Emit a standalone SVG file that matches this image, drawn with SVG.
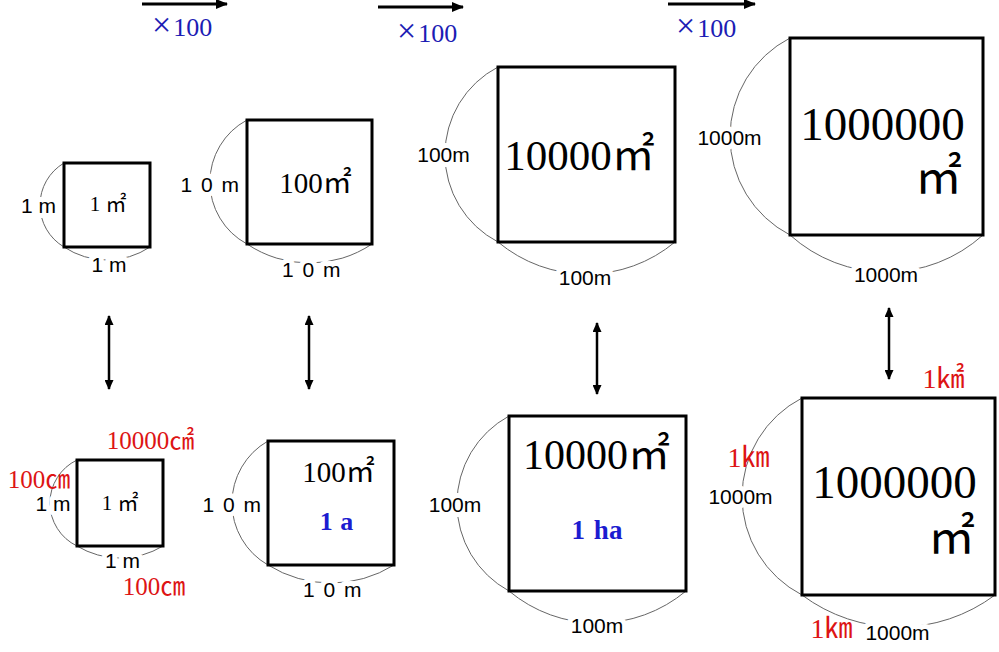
<svg xmlns="http://www.w3.org/2000/svg" width="999" height="652" viewBox="0 0 999 652">
<style>
.sq{fill:none;stroke:#000;stroke-width:3}
.arc{fill:none;stroke:#666;stroke-width:1}
.lbl{font-family:"Liberation Sans","Noto Sans CJK JP",sans-serif;font-size:21px;fill:#000;text-anchor:middle;paint-order:stroke;stroke:#fff;stroke-width:10;stroke-linejoin:round}
.big{font-family:"Liberation Serif","Noto Sans CJK JP",serif;fill:#000;text-anchor:middle}
.red{font-family:"Liberation Serif","Noto Sans CJK JP",serif;fill:#dd1414;text-anchor:middle}
.blue{font-family:"Liberation Serif","Noto Sans CJK JP",serif;fill:#1c1cb4;font-size:26px}
.unit{font-family:"Liberation Serif","Noto Sans CJK JP",serif;fill:#1c1cd0;font-weight:bold;text-anchor:middle}
.ar{stroke:#000;stroke-width:3;fill:none}
.va{stroke:#000;stroke-width:2.5;fill:none}
</style>
<defs>
<marker id="ah" markerUnits="userSpaceOnUse" markerWidth="12" markerHeight="10" refX="11" refY="5" orient="auto-start-reverse"><path d="M0,0 L12,5 L0,10 z" fill="#000"/></marker>
<marker id="vh" markerUnits="userSpaceOnUse" markerWidth="10" markerHeight="9" refX="9" refY="4.5" orient="auto-start-reverse"><path d="M0,0 L10,4.5 L0,9 z" fill="#000"/></marker>
</defs>

<g id="connectors">
<line class="ar" x1="142" y1="4" x2="227" y2="4" marker-end="url(#ah)"/>
<line class="ar" x1="378" y1="7" x2="463" y2="7" marker-end="url(#ah)"/>
<line class="ar" x1="668" y1="4" x2="755" y2="4" marker-end="url(#ah)"/>
<text class="blue" x="152" y="36"><tspan font-size="34">×</tspan><tspan dx="2">100</tspan></text>
<text class="blue" x="397" y="42"><tspan font-size="34">×</tspan><tspan dx="2">100</tspan></text>
<text class="blue" x="676" y="37"><tspan font-size="34">×</tspan><tspan dx="2">100</tspan></text>
<line class="va" x1="109" y1="316" x2="109" y2="389" marker-start="url(#vh)" marker-end="url(#vh)"/>
<line class="va" x1="309" y1="316" x2="309" y2="389" marker-start="url(#vh)" marker-end="url(#vh)"/>
<line class="va" x1="597" y1="323" x2="597" y2="394" marker-start="url(#vh)" marker-end="url(#vh)"/>
<line class="va" x1="889" y1="308" x2="889" y2="379" marker-start="url(#vh)" marker-end="url(#vh)"/>
</g>

<g id="sq1">
<path class="arc" d="M64 163 A48.75 48.75 0 0 0 64 247"/>
<path class="arc" d="M64 247 A77.6 77.6 0 0 0 150 247"/>
<rect class="sq" x="64" y="163" width="86" height="84"/>
<text class="lbl" x="38.5" y="213">1 m</text>
<text class="lbl" x="109" y="272">1 m</text>
<text class="big" x="108" y="211" font-size="21">1 ㎡</text>
</g>

<g id="sq2">
<path class="arc" d="M247 120 A70.4 70.4 0 0 0 247 244"/>
<path class="arc" d="M247 244 A112 112 0 0 0 372 244"/>
<rect class="sq" x="247" y="120" width="125" height="124"/>
<text class="lbl" x="210.5" y="192" letter-spacing="1.5">1 0 m</text>
<text class="lbl" x="312" y="277" letter-spacing="1.5">1 0 m</text>
<text class="big" x="315.5" y="193" font-size="29">100㎡</text>
</g>

<g id="sq3">
<path class="arc" d="M498 67 A98.7 98.7 0 0 0 498 242"/>
<path class="arc" d="M498 242 A138 138 0 0 0 675 242"/>
<rect class="sq" x="498" y="67" width="177" height="175"/>
<text class="lbl" x="443.5" y="162">100m</text>
<text class="lbl" x="585" y="285">100m</text>
<text class="big" x="579.5" y="170" font-size="43">10000㎡</text>
</g>

<g id="sq4">
<path class="arc" d="M790 38 A110.9 110.9 0 0 0 790 235"/>
<path class="arc" d="M790 235 A144 144 0 0 0 983 235"/>
<rect class="sq" x="790" y="38" width="193" height="197"/>
<text class="lbl" x="729.5" y="145">1000m</text>
<text class="lbl" x="886" y="282">1000m</text>
<text class="big" x="882.5" y="140" font-size="47">1000000</text>
<text class="big" x="962" y="193" font-size="47" style="text-anchor:end">㎡</text>
</g>

<g id="sq5">
<path class="arc" d="M77 460 A47.7 47.7 0 0 0 77 546"/>
<path class="arc" d="M77 546 A83 83 0 0 0 163 546"/>
<rect class="sq" x="77" y="460" width="86" height="86"/>
<text class="lbl" x="53" y="511">1 m</text>
<text class="lbl" x="122.5" y="568">1 m</text>
<text class="big" x="120" y="510" font-size="21">1 ㎡</text>
<text class="red" x="150.5" y="449" font-size="25">10000㎠</text>
<text class="red" x="39" y="488" font-size="25">100㎝</text>
<text class="red" x="154" y="595" font-size="25">100㎝</text>
</g>

<g id="sq6">
<path class="arc" d="M268 441 A71.4 71.4 0 0 0 268 565"/>
<path class="arc" d="M268 565 A119 119 0 0 0 394 565"/>
<rect class="sq" x="268" y="441" width="126" height="124"/>
<text class="lbl" x="232.5" y="512" letter-spacing="1.5">1 0 m</text>
<text class="lbl" x="333" y="597" letter-spacing="1.5">1 0 m</text>
<text class="big" x="338.5" y="482" font-size="29">100㎡</text>
<text class="unit" x="336.5" y="530" font-size="26" word-spacing="1">1 a</text>
</g>

<g id="sq7">
<path class="arc" d="M509 416 A99.6 99.6 0 0 0 509 591"/>
<path class="arc" d="M509 591 A138 138 0 0 0 686 591"/>
<rect class="sq" x="509" y="416" width="177" height="175"/>
<text class="lbl" x="455" y="512">100m</text>
<text class="lbl" x="597" y="633">100m</text>
<text class="big" x="596.5" y="469" font-size="42">10000㎡</text>
<text class="unit" x="597" y="539" font-size="27" word-spacing="2">1 ha</text>
</g>

<g id="sq8">
<path class="arc" d="M802 398 A110.9 110.9 0 0 0 802 595"/>
<path class="arc" d="M802 595 A161 161 0 0 0 995 595"/>
<rect class="sq" x="802" y="398" width="193" height="197"/>
<text class="lbl" x="740.5" y="504">1000m</text>
<text class="lbl" x="897.5" y="640">1000m</text>
<text class="big" x="894.5" y="498" font-size="47">1000000</text>
<text class="big" x="975" y="553" font-size="47" style="text-anchor:end">㎡</text>
<text class="red" x="943.5" y="388" font-size="28">1㎢</text>
<text class="red" x="748.5" y="467" font-size="28">1㎞</text>
<text class="red" x="831.5" y="638" font-size="28">1㎞</text>
</g>
</svg>
